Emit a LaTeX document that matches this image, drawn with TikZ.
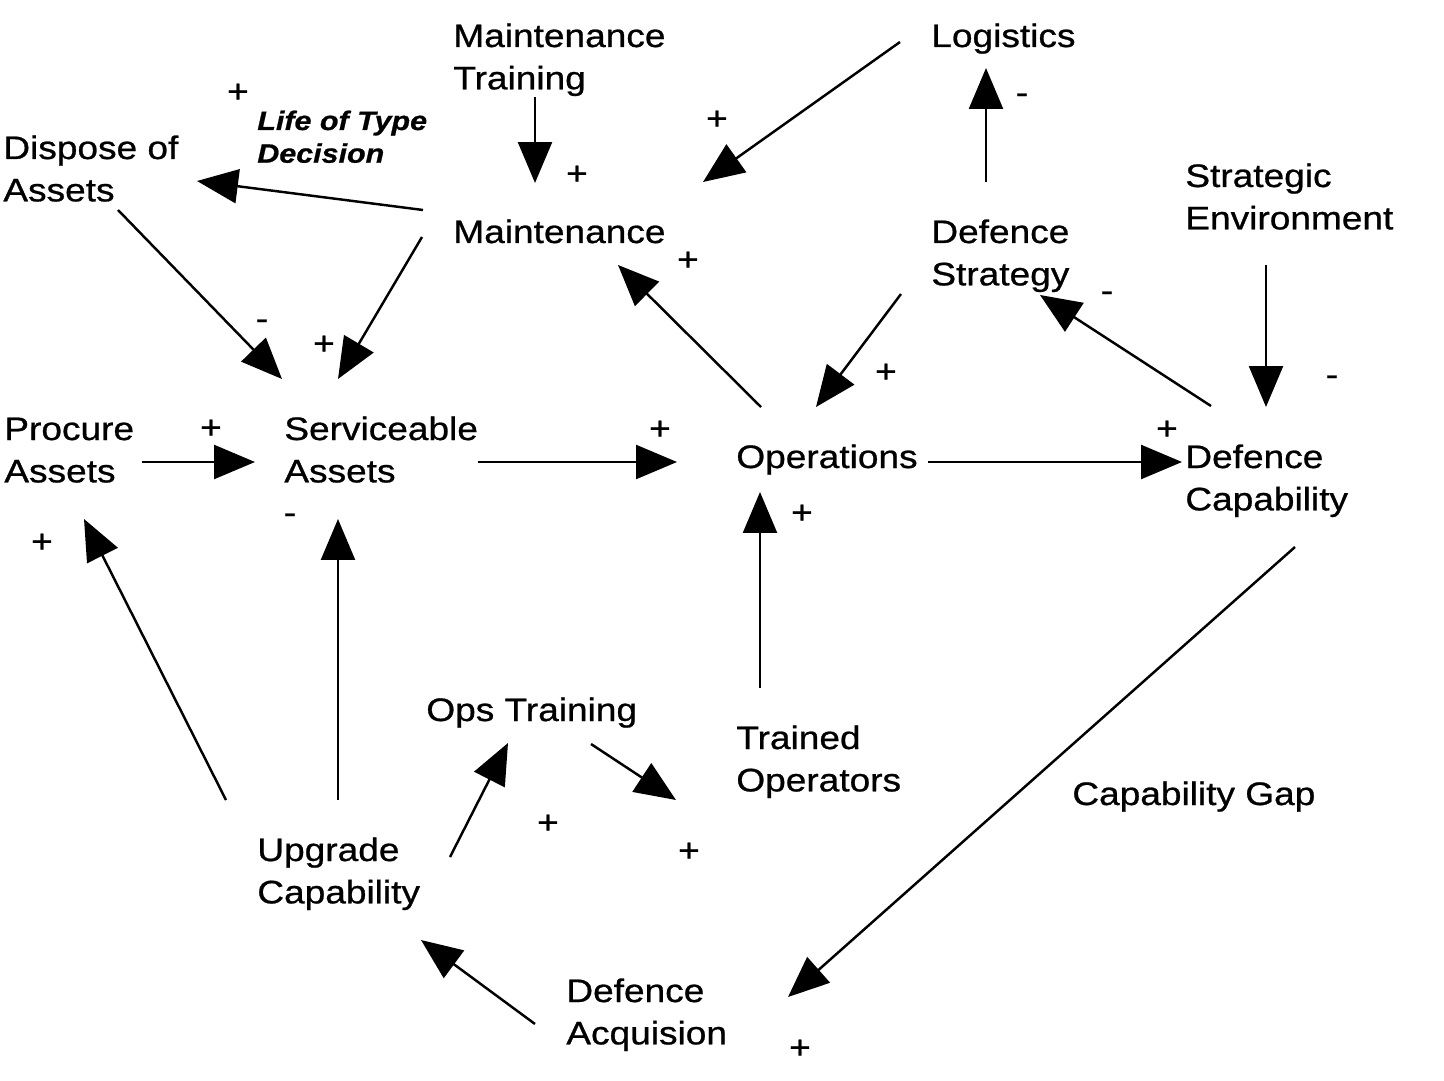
\documentclass[tikz,border=0pt]{standalone}
\usepackage{fontspec}
\setmainfont{Liberation Sans}[FakeStretch=1.14,FakeBold=0.8]
\usetikzlibrary{arrows.meta,calc}
\newcommand\twolines[1]{\begin{tabular}[t]{@{}l@{}}#1\end{tabular}}

\begin{document}
\begin{tikzpicture}[x=0.02cm,y=-0.02cm,
    lbl/.style={anchor=base west,inner sep=0pt,font=\fontsize{18.5}{24.1}\selectfont},
    lifelbl/.style={lbl,font=\fontsize{15.2}{18.6}\selectfont\bfseries\itshape},
    sgn/.style={inner sep=0pt,text height=13pt,text depth=0pt,font=\fontsize{18.5}{24.1}\selectfont},
    arr/.style={line width=1.4pt,-{Triangle[length=0.82cm,width=0.68cm]}}]
    \useasboundingbox (0,0) rectangle (1444,1081);

    \node[lbl] (mtrain) at (453,47) {\twolines{Maintenance\\Training}};
    \node[lbl] (logi) at (931,47) {Logistics};
    \node[lifelbl] (life) at (257,130) {\twolines{Life of Type\\Decision}};
    \node[lbl] (dispose) at (3,159) {\twolines{Dispose of\\Assets}};
    \node[lbl] (maint) at (453,243) {Maintenance};
    \node[lbl] (dstrat) at (931,243) {\twolines{Defence\\Strategy}};
    \node[lbl] (strenv) at (1185,187) {\twolines{Strategic\\Environment}};
    \node[lbl] (procure) at (4,440) {\twolines{Procure\\Assets}};
    \node[lbl] (service) at (284,440) {\twolines{Serviceable\\Assets}};
    \node[lbl] (ops) at (736,468) {Operations};
    \node[lbl] (dcap) at (1185,468) {\twolines{Defence\\Capability}};
    \node[lbl] (opstrain) at (426,721) {Ops Training};
    \node[lbl] (trained) at (736,749) {\twolines{Trained\\Operators}};
    \node[lbl] (gap) at (1072,805) {Capability Gap};
    \node[lbl] (upgrade) at (257,861) {\twolines{Upgrade\\Capability}};
    \node[lbl] (acq) at (566,1002) {\twolines{Defence\\Acquision}};

    % links of the influence loops
    \draw[arr] ($(logi.base west)+(-31,-5)$) -- ($(maint.base west)+(250,-61)$);
    \draw[arr] ($(mtrain.base west)+(82,50)$) -- ($(maint.base west)+(82,-60)$);
    \draw[arr] ($(maint.base west)+(-30,-33)$) -- ($(dispose.base west)+(194,22)$);
    \draw[arr] ($(maint.base west)+(-31,-6)$) -- ($(service.base west)+(54,-61)$);
    \draw[arr] ($(dispose.base west)+(115,51)$) -- ($(service.base west)+(-2,-61)$);
    \draw[arr] ($(dstrat.base west)+(55,-61)$) -- ($(logi.base west)+(55,21)$);
    \draw[arr] ($(dstrat.base west)+(-30,51)$) -- ($(ops.base west)+(80,-61)$);
    \draw[arr] ($(ops.base west)+(25,-61)$) -- ($(maint.base west)+(165,22)$);
    \draw[arr] ($(dcap.base west)+(26,-62)$) -- ($(dstrat.base west)+(109,52)$);
    \draw[arr] ($(strenv.base west)+(81,78)$) -- ($(dcap.base west)+(81,-61)$);
    \draw[arr] ($(procure.base west)+(138,22)$) -- ($(service.base west)+(-29,22)$);
    \draw[arr] ($(service.base west)+(194,22)$) -- ($(ops.base west)+(-59,-6)$);
    \draw[arr] ($(ops.base west)+(192,-6)$) -- ($(dcap.base west)+(-3,-6)$);
    \draw[arr] ($(trained.base west)+(24,-61)$) -- ($(ops.base west)+(24,24)$);
    \draw[arr] ($(upgrade.base west)+(-31,-61)$) -- ($(procure.base west)+(80,79)$);
    \draw[arr] ($(upgrade.base west)+(81,-61)$) -- ($(service.base west)+(54,79)$);
    \draw[arr] ($(upgrade.base west)+(193,-4)$) -- ($(opstrain.base west)+(82,22)$);
    \draw[arr] ($(opstrain.base west)+(165,23)$) -- ($(trained.base west)+(-60,51)$);
    \draw[arr] ($(dcap.base west)+(110,79)$) -- ($(acq.base west)+(222,-5)$);
    \draw[arr] ($(acq.base west)+(-31,22)$) -- ($(upgrade.base west)+(164,79)$);

    % polarity signs
    \node[sgn] (pA) at (238,91) {+};
    \node[sgn] (pB) at (717,118) {+};
    \node[sgn] (pC) at (577,173) {+};
    \node[sgn] (pD) at (688,259) {+};
    \node[sgn] (mA) at (1022,92) {-};
    \node[sgn] (mB) at (1107,290) {-};
    \node[sgn] (pE) at (886,371) {+};
    \node[sgn] (mC) at (1332,374) {-};
    \node[sgn] (pF) at (1167,428) {+};
    \node[sgn] (pG) at (660,428) {+};
    \node[sgn] (pH) at (211,427) {+};
    \node[sgn] (pI) at (324,343) {+};
    \node[sgn] (mD) at (262,318) {-};
    \node[sgn] (mE) at (290,512) {-};
    \node[sgn] (pJ) at (42,541) {+};
    \node[sgn] (pK) at (802,512) {+};
    \node[sgn] (pL) at (548,822) {+};
    \node[sgn] (pM) at (689,850) {+};
    \node[sgn] (pN) at (800,1047) {+};
\end{tikzpicture}
\end{document}
